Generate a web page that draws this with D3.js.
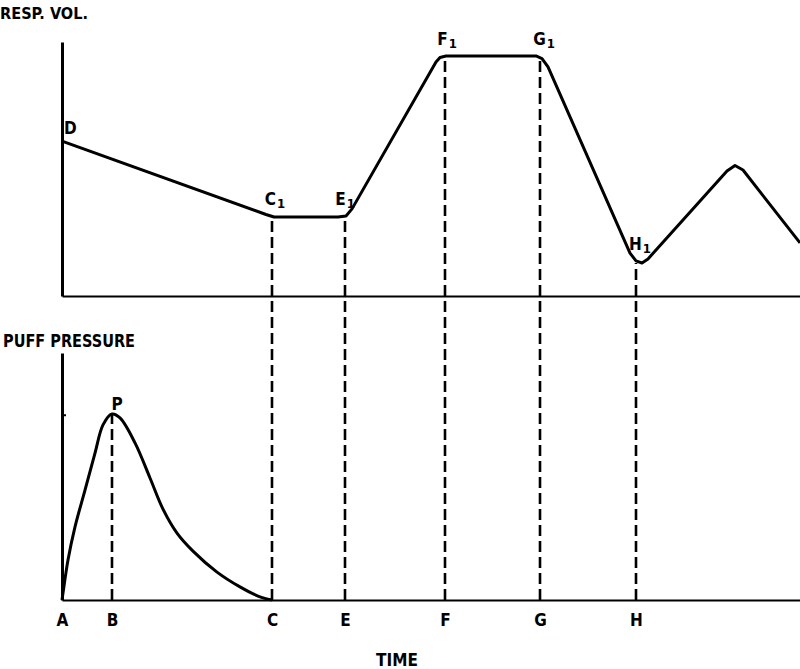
<!DOCTYPE html>
<meta charset="utf-8">
<html>
<script src="https://d3js.org/d3.v7.min.js"></script>
<style>
    body { margin: 0; background: #fff; }
    text { font-family: "Liberation Sans Narrow", "DejaVu Sans Condensed", sans-serif; font-weight: bold; fill: #000; }
</style>
<body>
<div id="chart"></div>
<script>
// time marks on the base line
var tickTimes = [0, 1, 4.2, 5.66, 7.66, 9.56, 11.48];
var tickNames = ["A", "B", "C", "E", "F", "G", "H"];

// respiratory volume trace
var volTime  = [0, 4.08, 4.24, 5.52, 5.68, 5.80, 7.48, 7.56, 7.68, 9.48, 9.60, 9.72, 11.36, 11.48, 11.60, 11.72, 13.30, 13.46, 13.62, 14.76];
var volValue = [6.10, 3.21, 3.11, 3.11, 3.15, 3.43, 9.21, 9.39, 9.45, 9.45, 9.35, 9.02, 1.69, 1.38, 1.30, 1.46, 4.92, 5.14, 4.96, 2.09];

// puff pressure trace
var puffTime  = [0, 0.02, 0.12, 0.26, 0.46, 0.66, 0.82, 1.0, 1.16, 1.46, 1.76, 2.02, 2.30, 2.62, 3.10, 3.56, 3.92, 4.2];
var puffValue = [0, 0.28, 1.62, 2.96, 4.45, 5.95, 7.09, 7.53, 7.37, 6.36, 4.94, 3.68, 2.71, 1.98, 1.13, 0.53, 0.16, 0];

// labelled points on the volume trace
var markNames = ["D", "C", "E", "F", "G", "H"];
var markSubs  = ["", "1", "1", "1", "1", "1"];
var markTime  = [0, 4.2, 5.66, 7.66, 9.56, 11.48];
var markVol   = [6.10, 3.11, 3.11, 9.45, 9.45, 1.30];

// peak of the puff
var peakName = "P";
var peakTime = 1.0;
var peakPuff = 7.53;
var puffTick = [7.5];

var width = 800, height = 669;

var svg = d3.select("#chart").append("svg")
    .attr("width", width)
    .attr("height", height);

var x = d3.scaleLinear().domain([0, 14.76]).range([62, 800]);
var yV = d3.scaleLinear().domain([0, 10]).range([296, 42]);
var yP = d3.scaleLinear().domain([0, 10]).range([600, 353]);

// dashed drop lines (drawn first so traces sit on top)
var drops = markTime.slice(1).map(function (t, i) {
    return { t: t, top: yV(markVol[i + 1]) };
});
drops.unshift({ t: peakTime, top: yP(peakPuff) });

svg.selectAll(".drop")
    .data(drops).enter().append("line")
    .attr("class", "drop")
    .attr("x1", function (d) { return x(d.t); })
    .attr("x2", function (d) { return x(d.t); })
    .attr("y1", yP(0))
    .attr("y2", function (d) { return d.top; })
    .attr("stroke", "#000")
    .attr("stroke-width", 2.6)
    .attr("stroke-dasharray", "11,5");

// top panel axes
svg.append("g")
    .attr("transform", "translate(" + x(0) + ",0)")
    .call(d3.axisLeft(yV).tickValues([]).tickSizeOuter(0))
    .select(".domain").attr("stroke-width", 3);

svg.append("g")
    .attr("transform", "translate(0," + yV(0) + ")")
    .call(d3.axisBottom(x).tickValues([]).tickSizeOuter(0))
    .select(".domain").attr("stroke-width", 2);

// bottom panel axes
svg.append("g")
    .attr("transform", "translate(" + x(0) + ",0)")
    .call(d3.axisRight(yP).tickValues(puffTick).tickSize(4).tickSizeOuter(0).tickFormat(""))
    .call(function (g) {
        g.select(".domain").attr("stroke-width", 3);
        g.selectAll(".tick line").attr("stroke-width", 2);
    });

var xAxis = svg.append("g")
    .attr("transform", "translate(0," + yP(0) + ")")
    .call(d3.axisBottom(x)
        .tickValues(tickTimes)
        .tickSize(0)
        .tickSizeOuter(0)
        .tickPadding(14)
        .tickFormat(function (d, i) { return tickNames[i]; }));
xAxis.select(".domain").attr("stroke-width", 2);
xAxis.selectAll("text")
    .style("font-family", "'Liberation Sans Narrow', 'DejaVu Sans Condensed', sans-serif")
    .style("font-weight", "bold")
    .style("font-size", "17px");

// traces
svg.append("path")
    .datum(d3.zip(volTime, volValue))
    .attr("fill", "none")
    .attr("stroke", "#000")
    .attr("stroke-width", 3)
    .attr("stroke-linejoin", "round")
    .attr("d", d3.line()
        .x(function (d) { return x(d[0]); })
        .y(function (d) { return yV(d[1]); }));

svg.append("path")
    .datum(d3.zip(puffTime, puffValue))
    .attr("fill", "none")
    .attr("stroke", "#000")
    .attr("stroke-width", 3)
    .attr("stroke-linejoin", "round")
    .attr("d", d3.line()
        .x(function (d) { return x(d[0]); })
        .y(function (d) { return yP(d[1]); })
        .curve(d3.curveCatmullRom.alpha(0.5)));

// point labels
var labelDx = [2, 3, 0, 2, 4, 4];
var labelDy = [-7, -12, -12, -11, -11, -13];

var marks = svg.selectAll(".mark")
    .data(markNames).enter().append("text")
    .attr("class", "mark")
    .attr("x", function (d, i) { return x(markTime[i]) + labelDx[i]; })
    .attr("y", function (d, i) { return yV(markVol[i]) + labelDy[i]; })
    .attr("text-anchor", function (d, i) { return i === 0 ? "start" : "middle"; })
    .style("font-size", "17px");
marks.append("tspan").text(function (d) { return d; });
marks.append("tspan")
    .attr("dx", 1)
    .attr("dy", 3)
    .style("font-size", "13px")
    .text(function (d, i) { return markSubs[i]; });

svg.append("text")
    .attr("x", x(peakTime) + 5)
    .attr("y", yP(peakPuff) - 4)
    .attr("text-anchor", "middle")
    .style("font-size", "17px")
    .text(peakName);

// titles
svg.append("text")
    .attr("x", 0)
    .attr("y", 19)
    .attr("textLength", 88)
    .attr("lengthAdjust", "spacingAndGlyphs")
    .style("font-size", "15px")
    .text("RESP. VOL.");

svg.append("text")
    .attr("x", 3)
    .attr("y", 347)
    .attr("textLength", 132)
    .attr("lengthAdjust", "spacingAndGlyphs")
    .style("font-size", "17px")
    .text("PUFF PRESSURE");

svg.append("text")
    .attr("x", x(6.7))
    .attr("y", 666)
    .attr("text-anchor", "middle")
    .style("font-size", "17px")
    .text("TIME");
</script>
</body>
</html>
